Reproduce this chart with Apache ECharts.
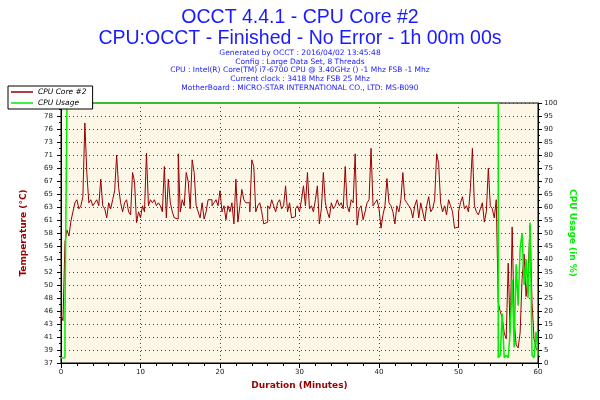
<!DOCTYPE html>
<html>
<head>
<meta charset="utf-8">
<title>OCCT 4.4.1 - CPU Core #2</title>
<script src="https://cdn.jsdelivr.net/npm/echarts@6/dist/echarts.min.js"></script>
<style>
  html, body { margin: 0; padding: 0; background: #fff; }
  #chart { width: 600px; height: 400px; }
</style>
</head>
<body>
<div id="chart"></div>
<script>
const STEP = 0.25;
const tempValues = [
  45, 44, 57, 59, 58, 60.5, 62, 63.5, 64, 62.5,
  63, 64.5, 76.7, 68.4, 63.5, 64, 63, 63.5, 64, 63,
  67.4, 63, 62.5, 61, 63.5, 62.5, 64, 65.5, 71.4, 66,
  63.5, 62, 63.5, 64, 62, 61.5, 68.5, 67, 60.2, 62,
  61, 63, 62, 71.7, 63, 64, 63.5, 64, 63, 63.5,
  63, 62, 69.5, 61, 67.4, 63.5, 62, 61, 60.8, 71.6,
  62, 64, 63, 68.5, 67, 62.5, 70.6, 68.5, 63, 62,
  61, 63.5, 60.8, 62, 64, 64, 63, 63.5, 64, 63,
  65.5, 62, 63, 60.7, 63, 62, 63.5, 60, 67.4, 60.3,
  63, 65.7, 64, 63.5, 63.5, 62, 70.6, 69.5, 62, 63,
  63.5, 62, 60, 60.3, 63, 62.5, 64, 63, 62, 63.5,
  64, 62.5, 63, 66.3, 62, 63.5, 61, 61.2, 62.5, 63,
  62, 64, 66.3, 63, 68.5, 62.5, 63, 62, 64, 66.3,
  60, 62.5, 68.5, 63.5, 62, 61, 63.5, 62.5, 63, 64,
  63, 63.5, 62.5, 69.5, 63, 62, 64, 63.5, 71.6, 59.8,
  62.5, 63, 60.7, 62, 63.5, 64, 72.5, 63, 63.5, 64,
  62.5, 59.3, 61.5, 63, 67.5, 63.5, 63, 62, 60, 63,
  62, 64, 68.5, 64, 63.5, 63, 62.5, 61, 63, 64,
  61, 63.5, 62, 60.5, 63, 64.5, 62, 62.5, 64, 71.6,
  70, 63.5, 62, 63, 61.5, 64, 63, 62, 59.3, 59.5,
  62, 63.5, 64.5, 62.5, 63, 62, 66, 72.5, 63, 62,
  61.5, 62.5, 63.5, 60.3, 62, 69.2, 63, 62.5, 61, 64,
  47, 45.5, 44.5, 42, 41, 53.5, 42, 59.5, 44, 40,
  39.5, 42, 51, 55, 48, 52, 59.8, 47, 41, 39.5, 38.8
];

// cpu usage: points where the value changes (minutes, %)
const usageMinutes = [0, 0.25, 0.5, 0.75,
  55, 55.25, 55.5, 55.75, 56, 56.25, 56.5, 56.75, 57, 57.25, 57.5,
  57.75, 58, 58.25, 58.5, 58.75, 59, 59.25, 59.5, 59.75, 60];
const usageValues = [2, 2, 18, 100,
  2, 3, 19, 2, 3, 2, 12, 32, 6, 38, 22,
  44, 50, 30, 40, 25, 54, 3, 2, 12, 3];

const tempTickLabels = [37, 39, 41, 43, 46, 48, 50, 52, 54, 56, 58,
  61, 63, 65, 67, 69, 71, 73, 76, 78, 80];

const infoLines = [
  'Generated by OCCT : 2016/04/02 13:45:48',
  'Config : Large Data Set, 8 Threads',
  'CPU : Intel(R) Core(TM) i7-6700 CPU @ 3.40GHz () -1 Mhz FSB -1 Mhz',
  'Current clock : 3418 Mhz FSB 25 Mhz',
  'MotherBoard : MICRO-STAR INTERNATIONAL CO., LTD: MS-B090'
];

const blue = '#1a1aff';
const darkRed = '#990000';
const green = '#00ee00';

const chart = echarts.init(document.getElementById('chart'));

const titles = [
  { text: 'OCCT 4.4.1 - CPU Core #2', left: 'center', top: 3,
    textStyle: { color: blue, fontSize: 19.5, fontWeight: 'normal', fontFamily: 'Liberation Sans' } },
  { text: 'CPU:OCCT - Finished - No Error - 1h 00m 00s', left: 'center', top: 24,
    textStyle: { color: blue, fontSize: 19.5, fontWeight: 'normal', fontFamily: 'Liberation Sans' } }
];
infoLines.forEach(function (line, i) {
  titles.push({
    text: line, left: 'center', top: 49 + i * 8.7, padding: 0,
    textStyle: { color: blue, fontSize: 7.5, fontWeight: 'normal', fontFamily: 'DejaVu Sans' }
  });
});

const option = {
  animation: false,
  backgroundColor: '#fff',
  title: titles,
  legend: {
    orient: 'vertical',
    left: 8,
    top: 86,
    data: ['CPU Core #2', 'CPU Usage'],
    icon: 'rect',
    itemWidth: 22,
    itemHeight: 1.5,
    itemGap: 3,
    padding: [2, 6, 2, 3],
    backgroundColor: '#fff',
    borderColor: '#000',
    borderWidth: 1,
    borderRadius: 0,
    textStyle: { fontSize: 7.5, fontStyle: 'italic', color: '#000', fontFamily: 'DejaVu Sans',
      lineHeight: 6 }
  },
  grid: {
    left: 61, right: 62, top: 103, bottom: 37,
    show: true,
    backgroundColor: '#fdf7e8',
    borderColor: '#000',
    borderWidth: 1
  },
  xAxis: {
    type: 'value',
    min: 0, max: 60, interval: 10,
    name: 'Duration (Minutes)',
    nameLocation: 'middle',
    nameGap: 18,
    nameTextStyle: { color: darkRed, fontWeight: 'bold', fontSize: 9, fontFamily: 'DejaVu Sans' },
    axisLine: { lineStyle: { color: '#000' } },
    axisTick: { length: 5, lineStyle: { color: '#000' } },
    minorTick: { show: true, splitNumber: 5, length: 3, lineStyle: { color: '#000' } },
    axisLabel: { fontSize: 7, color: '#222', margin: 6, fontFamily: 'DejaVu Sans' },
    splitLine: { show: true, lineStyle: { color: '#444', type: [1, 3] } }
  },
  yAxis: [
    {
      type: 'value',
      position: 'left',
      min: 37, max: 80, interval: 2.15,
      name: 'Temperature (°C)',
      nameLocation: 'middle',
      nameGap: 33,
      nameRotate: 90,
      nameTextStyle: { color: darkRed, fontWeight: 'bold', fontSize: 9, fontFamily: 'DejaVu Sans' },
      axisLine: { show: true, lineStyle: { color: '#000' } },
      axisTick: { show: true, length: 4, lineStyle: { color: '#000' } },
      minorTick: { show: true, splitNumber: 2, length: 2, lineStyle: { color: '#000' } },
      axisLabel: {
        fontSize: 7, color: '#222', margin: 8, fontFamily: 'DejaVu Sans',
        formatter: function (v) { return tempTickLabels[Math.round((v - 37) / 2.15)]; }
      },
      splitLine: { show: true, lineStyle: { color: '#444', type: [1, 3] } }
    },
    {
      type: 'value',
      position: 'right',
      min: 0, max: 100, interval: 5,
      name: 'CPU Usage (in %)',
      nameLocation: 'middle',
      nameGap: 24,
      nameRotate: -90,
      nameTextStyle: { color: green, fontWeight: 'bold', fontSize: 9, fontFamily: 'DejaVu Sans' },
      axisLine: { show: true, lineStyle: { color: '#000' } },
      axisTick: { show: true, length: 4, lineStyle: { color: '#000' } },
      minorTick: { show: true, splitNumber: 2, length: 2, lineStyle: { color: '#000' } },
      axisLabel: { fontSize: 7, color: '#222', margin: 6, fontFamily: 'DejaVu Sans' },
      splitLine: { show: false }
    }
  ],
  series: [
    {
      name: 'CPU Core #2',
      type: 'line',
      yAxisIndex: 0,
      step: 'end',
      symbol: 'none',
      sampling: null,
      color: darkRed,
      lineStyle: { color: darkRed, width: 1 },
      data: tempValues.map(function (v, i) { return [i * STEP, v]; }),
      z: 2
    },
    {
      name: 'CPU Usage',
      type: 'line',
      yAxisIndex: 1,
      step: 'end',
      symbol: 'none',
      color: green,
      lineStyle: { color: green, width: 1.5 },
      data: usageMinutes.map(function (m, i) { return [m, usageValues[i]]; }),
      z: 3
    }
  ]
};

chart.setOption(option);
</script>
</body>
</html>
